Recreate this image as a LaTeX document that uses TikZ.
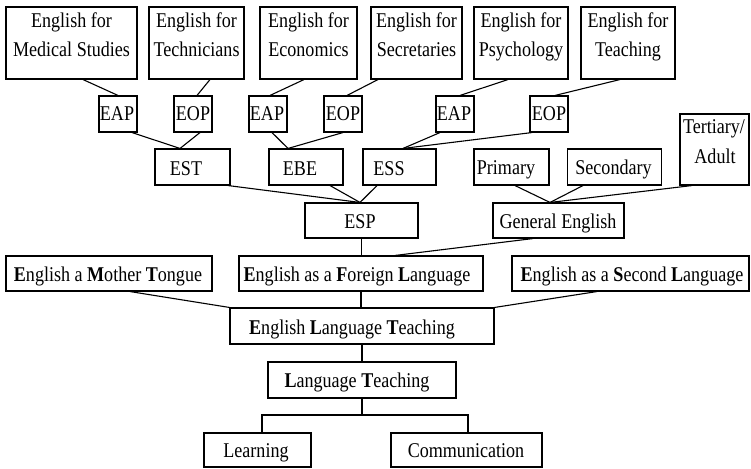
\documentclass[tikz,border=0pt]{standalone}
\usepackage{fontspec}
\setmainfont{Liberation Serif}[FakeStretch=0.86]
\newcommand\mybox[5]{\node[box,minimum width=#4pt,minimum height=#5pt] (#1) at (#2,#3) {};}
\newcommand\mytxt[4]{\node[txt] (#1) at (#2,#3) {#4};}
\begin{document}
\begin{tikzpicture}[x=1pt,y=-1pt,
  box/.style={draw,line width=1.1pt,rectangle,inner sep=0pt},
  txt/.style={inner sep=0pt,anchor=base,font=\fontsize{21}{25}\selectfont},
  conn/.style={line width=1.1pt}]
\fill[white] (0,0) rectangle (751,468);
\useasboundingbox (0,0) rectangle (751,468);
% boxes
\mybox{med}{71.5}{43}{131}{72}
\mybox{tech}{196.5}{43}{95}{72}
\mybox{econ}{308.5}{43}{97}{72}
\mybox{secr}{416.5}{43}{91}{72}
\mybox{psych}{521}{43}{94}{72}
\mybox{teach}{628}{43}{94}{72}
\mybox{eapA}{118}{114}{38}{36}
\mybox{eopA}{193}{114}{38}{36}
\mybox{eapB}{268}{114}{38}{36}
\mybox{eopB}{343}{114}{38}{36}
\mybox{eapC}{455}{114}{38}{36}
\mybox{eopC}{549}{114}{38}{36}
\mybox{est}{192.5}{167}{75}{36}
\mybox{ebe}{306}{167}{74}{36}
\mybox{ess}{399.5}{167}{73}{36}
\mybox{prim}{511.5}{167}{75}{36}
\mybox{sec}{614.5}{167}{94}{36}
\mybox{tert}{714.5}{149.5}{69}{71}
\mybox{esp}{361.5}{220.5}{113}{35}
\mybox{ge}{558.5}{220.5}{131}{35}
\mybox{emt}{109}{273.5}{206}{35}
\mybox{efl}{361}{273.5}{244}{35}
\mybox{esl}{630.5}{273.5}{237}{35}
\mybox{elt}{362}{326}{264}{36}
\mybox{lt}{362}{380}{188}{36}
\mybox{learn}{257.5}{450}{107}{34}
\mybox{comm}{466.5}{450}{151}{34}
% texts
\mytxt{tmedA}{71.5}{28}{English for}
\mytxt{tmedB}{71.5}{57}{Medical Studies}
\mytxt{ttechA}{196.5}{28}{English for}
\mytxt{ttechB}{196.5}{57}{Technicians}
\mytxt{teconA}{308.5}{28}{English for}
\mytxt{teconB}{308.5}{57}{Economics}
\mytxt{tsecrA}{416.5}{28}{English for}
\mytxt{tsecrB}{416.5}{57}{Secretaries}
\mytxt{tpsychA}{521}{28}{English for}
\mytxt{tpsychB}{521}{57}{Psychology}
\mytxt{tteachA}{628}{28}{English for}
\mytxt{tteachB}{628}{57}{Teaching}
\mytxt{teapA}{117}{120}{EAP}
\mytxt{teopA}{193}{120}{EOP}
\mytxt{teapB}{267}{120}{EAP}
\mytxt{teopB}{343}{120}{EOP}
\mytxt{teapC}{454}{120}{EAP}
\mytxt{teopC}{549}{120}{EOP}
\mytxt{test}{186}{175}{EST}
\mytxt{tebe}{300}{175}{EBE}
\mytxt{tess}{389}{175}{ESS}
\mytxt{tprim}{506}{174}{Primary}
\mytxt{tsec}{613.5}{174}{Secondary}
\mytxt{ttertA}{714}{133}{Tertiary/}
\mytxt{ttertB}{715}{163}{Adult}
\mytxt{tesp}{360}{228}{ESP}
\mytxt{tge}{558}{228}{General English}
\mytxt{temt}{108}{281}{\textbf{E}nglish a \textbf{M}other \textbf{T}ongue}
\mytxt{tefl}{357}{281}{\textbf{E}nglish as a \textbf{F}oreign \textbf{L}anguage}
\mytxt{tesl}{632}{281}{\textbf{E}nglish as a \textbf{S}econd \textbf{L}anguage}
\mytxt{telt}{352}{334}{\textbf{E}nglish \textbf{L}anguage \textbf{T}eaching}
\mytxt{tlt}{357}{387}{\textbf{L}anguage \textbf{T}eaching}
\mytxt{tlearn}{256}{457}{Learning}
\mytxt{tcomm}{466}{457}{Communication}
% connectors
\draw[conn] ([xshift=11.5]med.south) -- (eapA.north);
\draw[conn] ([xshift=13.5]tech.south) -- ([xshift=4]eopA.north);
\draw[conn] ([xshift=-4.5]econ.south) -- ([xshift=2]eapB.north);
\draw[conn] ([xshift=-38.5]secr.south) -- ([xshift=4]eopB.north);
\draw[conn] ([xshift=-13]psych.south) -- ([xshift=5]eapC.north);
\draw[conn] ([xshift=-8]teach.south) -- ([xshift=6]eopC.north);
\draw[conn] ([xshift=14]eapA.south) -- ([xshift=-12.5]est.north);
\draw[conn] ([xshift=7]eopA.south) -- ([xshift=-12.5]est.north);
\draw[conn] ([xshift=4]eapB.south) -- ([xshift=-18]ebe.north);
\draw[conn] (eopB.south) -- ([xshift=-18]ebe.north);
\draw[conn] ([xshift=-15]eapC.south) -- ([xshift=3.5]ess.north);
\draw[conn] ([xshift=-17]eopC.south) -- ([xshift=3.5]ess.north);
\draw[conn] ([xshift=35.5]est.south) -- ([xshift=-1.5]esp.north);
\draw[conn] ([xshift=24]ebe.south) -- ([xshift=-1.5]esp.north);
\draw[conn] ([xshift=-22.5]ess.south) -- ([xshift=-1.5]esp.north);
\draw[conn] ([xshift=3.5]prim.south) -- ([xshift=-8.5]ge.north);
\draw[conn] ([xshift=-31.5]sec.south) -- ([xshift=-8.5]ge.north);
\draw[conn] ([xshift=-22.5]tert.south) -- ([xshift=-8.5]ge.north);
\draw[conn] (esp.south) -- (esp.south |- efl.north);
\draw[conn] ([xshift=-25.5]ge.south) -- ([xshift=34]efl.north);
\draw[conn] (efl.south) -- (efl.south |- elt.north);
\draw[conn] ([xshift=21]emt.south) -- (elt.north west);
\draw[conn] ([xshift=-33.5]esl.south) -- (elt.north east);
\draw[conn] (elt.south) -- (lt.north);
\coordinate (fork) at (362,415);
\draw[conn] (lt.south) -- (fork);
\draw[conn] ([xshift=4.5]learn.north) |- (fork) -| ([xshift=1.5]comm.north);
\end{tikzpicture}
\end{document}
